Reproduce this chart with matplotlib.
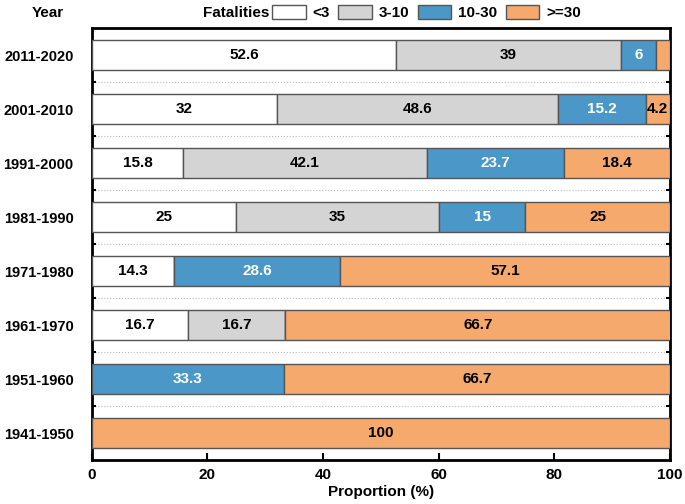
import matplotlib.pyplot as plt
from matplotlib.patches import Patch
import numpy as np

plt.rcParams["font.family"] = ["Liberation Sans", "DejaVu Sans"]
plt.rcParams["font.weight"] = "bold"

years = ["1941-1950", "1951-1960", "1961-1970", "1971-1980",
         "1981-1990", "1991-2000", "2001-2010", "2011-2020"]
categories = ["<3", "3-10", "10-30", ">=30"]
lt3 = [0, 0, 16.7, 14.3, 25, 15.8, 32, 52.6]
f3_10 = [0, 0, 16.7, 0, 35, 42.1, 48.6, 39]
f10_30 = [0, 33.3, 0, 28.6, 15, 23.7, 15.2, 6]
ge30 = [100, 66.7, 66.7, 57.1, 25, 18.4, 4.2, 2.4]
series = [lt3, f3_10, f10_30, ge30]
colors = ["#ffffff", "#d4d4d4", "#4b98c8", "#f5a96d"]
text_colors = ["black", "black", "white", "black"]

fig = plt.figure(figsize=(6.85, 5.04), dpi=100)
ax = fig.add_axes([0.134, 0.087, 0.844, 0.857])

y = np.arange(len(years))
left = np.zeros(len(years))
for vals, c, tc in zip(series, colors, text_colors):
    vals = np.array(vals, dtype=float)
    ax.barh(y, vals, left=left, height=0.55, color=c,
            edgecolor="#555555", linewidth=1.0, zorder=3)
    for yi, l, v in zip(y, left, vals):
        if v >= 3:
            ax.text(l + v / 2, yi, f"{v:g}", ha="center", va="center",
                    fontsize=11, fontweight="bold", color=tc, zorder=4)
    left += vals

ax.set_xlim(0, 100)
ax.set_ylim(-0.5, len(years) - 0.5)
ax.set_xticks(range(0, 101, 20))
ax.set_yticks(y)
ax.set_yticklabels(years)
ax.set_yticks(y[:-1] + 0.5, minor=True)
ax.tick_params(axis="y", which="major", length=0, pad=13, labelsize=10.5)
ax.tick_params(axis="y", which="minor", direction="in", length=3,
               width=1.5, left=True, right=True)
ax.tick_params(axis="x", direction="in", length=5, width=1.5,
               labelsize=11, pad=6)
ax.grid(axis="y", which="minor", ls=":", color="#bbbbbb", lw=0.8, zorder=0)
for s in ax.spines.values():
    s.set_linewidth(2)
ax.set_xlabel("Proportion (%)", fontsize=11, fontweight="bold", labelpad=2)

fig.text(0.07, 0.975, "Year", fontsize=11, fontweight="bold",
         ha="center", va="center")
fig.text(0.296, 0.975, "Fatalities", fontsize=11, fontweight="bold",
         ha="left", va="center")
handles = [Patch(facecolor=c, edgecolor="#555555", linewidth=1.0)
           for c in colors]
fig.legend(handles, categories, loc="center left",
           bbox_to_anchor=(0.397, 0.975), ncol=4, frameon=False,
           fontsize=11, handlelength=2.2, handleheight=1.0,
           handletextpad=0.45, columnspacing=0.55, borderpad=0,
           borderaxespad=0)

fig.savefig("out.png", dpi=100)
